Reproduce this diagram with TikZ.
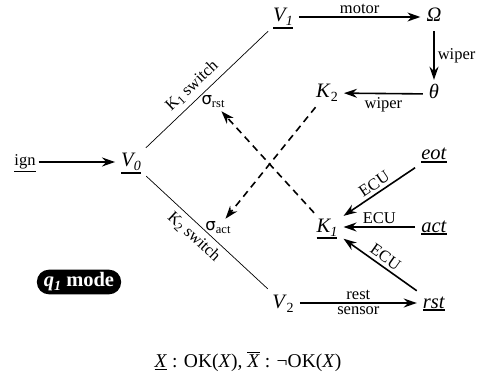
\documentclass[tikz,border=0pt]{standalone}
\usepackage{fontspec}
\setmainfont{Liberation Serif}
\newfontfamily\sigfont{DejaVu Sans}
\usetikzlibrary{arrows.meta}
\newcommand{\nodefont}{\fontsize{20.5}{24}\selectfont}
\newcommand{\lblfont}{\fontsize{16.5}{19}\selectfont}
\newcommand{\nsub}[1]{\raisebox{-4pt}{\fontsize{14}{14}\selectfont #1}}
\newcommand{\lsub}[1]{\raisebox{-3pt}{\fontsize{12.5}{13}\selectfont #1}}
\newcommand{\ok}[1]{\leavevmode\vtop{\hbox{#1}\kern1.2pt\hrule height1.5pt}}
\newcommand{\nok}[1]{\leavevmode\vbox{\hrule height1.2pt\kern1.5pt\hbox{#1}}}
\begin{document}
\begin{tikzpicture}
		[x=1pt,y=-1pt,
		state/.style={font=\nodefont,inner sep=6pt,text height=13pt,text depth=3pt},
		lbl/.style={font=\lblfont,inner sep=3pt},
		flow/.style={-{Stealth[length=13pt,width=9pt]},line width=1.6pt},
		signal/.style={flow,dash pattern=on 7pt off 5pt},
		switch/.style={line width=0.7pt}]
		\useasboundingbox (0,0) rectangle (490,385);
		\node[lbl,text height=11pt,text depth=3pt] (ign) at (25,162) {\ok{ign}};
		\node[state] (V0) at (131,162) {\ok{\textit{V\nsub{0}}}};
		\node[state] (V1) at (283,17) {\ok{\textit{V\nsub{1}}}};
		\node[state] (Om) at (434,17) {\textit{Ω}};
		\node[state] (th) at (434,94) {\textit{θ}};
		\node[state] (K2) at (327,93) {\textit{K}\nsub{2}};
		\node[state] (eot) at (434,155) {\ok{\textit{eot}}};
		\node[state] (K1) at (327,227) {\ok{\textit{K\nsub{1}}}};
		\node[state] (act) at (434,227) {\ok{\textit{act}}};
		\node[state] (V2) at (283,303) {\textit{V}\nsub{2}};
		\node[state] (rst) at (434,303) {\ok{\textit{rst}}};
		\node[lbl] (srst) at (213,102) {{\sigfont σ}\lsub{rst}};
		\node[lbl] (sact) at (218,228) {{\sigfont σ}\lsub{act}};
		\node[font=\nodefont\bfseries,text=white,fill=black,rounded corners=12pt,
			inner xsep=7pt,inner ysep=3pt] (mode) at (79,282) {\textit{q\nsub{1}} mode};
		\node[font=\fontsize{19.5}{22}\selectfont] (legend) at (248,362) {\ok{\textit{X}} : OK(\textit{X}), \nok{\textit{X}} : ¬OK(\textit{X})};
		\draw[flow] (ign) -- (V0);
		\draw[switch] (V0) -- node[lbl,sloped,above,pos=0.45,inner sep=5pt] {K\lsub{1} switch} (V1);
		\draw[switch] (V0) -- node[lbl,sloped,below,pos=0.46,inner sep=5pt] {K\lsub{2} switch} (V2);
		\draw[flow] (V1) -- node[lbl,above] {motor} (Om);
		\draw[flow] (Om) -- node[lbl,right] {wiper} (th);
		\draw[flow] (th) -- node[lbl,below] {wiper} (K2);
		\draw[flow] (eot) -- node[lbl,sloped,above] {ECU} (K1);
		\draw[flow] (act) -- node[lbl,above] {ECU} (K1);
		\draw[flow] (rst) -- node[lbl,sloped,above] {ECU} (K1);
		\draw[flow] (V2) -- node[lbl,above] {rest} node[lbl,below] {sensor} (rst);
		\draw[signal] (K1) -- (srst);
		\draw[signal] (K2) -- (sact);
	\end{tikzpicture}
\end{document}
